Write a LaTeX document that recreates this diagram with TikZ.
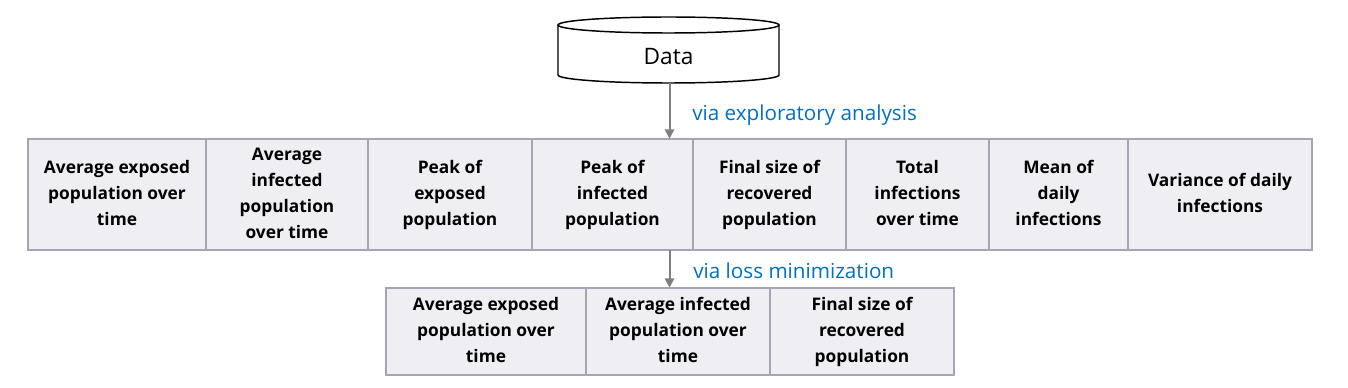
\documentclass[tikz,border=0pt]{standalone}
\usepackage{fontspec}
\setmainfont{Open Sans}
\usetikzlibrary{arrows.meta}
\definecolor{cellfill}{HTML}{EFEFF3}
\definecolor{cellline}{HTML}{A5A5B5}
\definecolor{viablue}{HTML}{0070C0}
\definecolor{arrgray}{HTML}{7F7F7F}
\newcommand{\celltxt}[1]{\begin{tabular}{@{}c@{}}#1\end{tabular}}
\begin{document}
\begin{tikzpicture}[x=0.75pt,y=-0.75pt,
 cell/.style={draw=cellline, fill=cellfill, line width=1.2pt, inner sep=0pt, font=\bfseries\fontsize{13}{19.5}\selectfont},
 cw/.style={minimum width=#1*0.75pt},
 ch/.style={minimum height=#1*0.75pt},
 conn/.style={draw=arrgray, line width=1.5pt, -{Triangle[length=7pt,width=7pt]}},
 via/.style={text=viablue, font=\fontsize{15.5}{18}\selectfont, anchor=west, inner sep=0pt},
 cyl/.style={draw=black, line width=1.1pt, fill=white}]
\useasboundingbox (0,0) rectangle (1348,388);
% cylinder
\draw[cyl] (558,25) -- (558,75) arc[start angle=180, end angle=360, x radius=82.875pt, y radius=6pt] -- (779,25);
\draw[cyl] (668.5,25) ellipse [x radius=82.875pt, y radius=6pt];
\node[cw=221, ch=66, inner sep=0pt] (data) at (669.5,50) {};
\node[font=\fontsize{17}{19}\selectfont] (datatext) at (668.5,57) {Data};
% top table
\begin{scope}[every node/.append style={ch=111}]
\node[cell, cw=178] (a1) at (117,194.5) {\celltxt{Average exposed\\population over\\time}};
\node[cell, cw=162] (a2) at (287,194.5) {\celltxt{Average\\infected\\population\\over time}};
\node[cell, cw=164] (a3) at (450,194.5) {\celltxt{Peak of\\exposed\\population}};
\node[cell, cw=161] (a4) at (612.5,194.5) {\celltxt{Peak of\\infected\\population}};
\node[cell, cw=153] (a5) at (769.5,194.5) {\celltxt{Final size of\\recovered\\population}};
\node[cell, cw=143] (a6) at (917.5,194.5) {\celltxt{Total\\infections\\over time}};
\node[cell, cw=139] (a7) at (1058.5,194.5) {\celltxt{Mean of\\daily\\infections}};
\node[cell, cw=184] (a8) at (1220,194.5) {\celltxt{Variance of daily\\infections}};
\node[cw=1284, inner sep=0pt] (tab1) at (670,194.5) {};
\end{scope}
% bottom table
\begin{scope}[every node/.append style={ch=87}]
\node[cell, cw=200] (b1) at (486,331.5) {\celltxt{Average exposed\\population over\\time}};
\node[cell, cw=184] (b2) at (678,331.5) {\celltxt{Average infected\\population over\\time}};
\node[cell, cw=184] (b3) at (862,331.5) {\celltxt{Final size of\\recovered\\population}};
\node[cw=568, inner sep=0pt] (tab2) at (670,331.5) {};
\end{scope}
% connectors
\draw[conn] (data.south) -- (data.south |- tab1.north);
\draw[conn] (data.south |- tab1.south) -- (data.south |- tab2.north);
\node[via] (via1) at (692,115) {via exploratory analysis};
\node[via] (via2) at (693,271) {via loss minimization};
\end{tikzpicture}
\end{document}
